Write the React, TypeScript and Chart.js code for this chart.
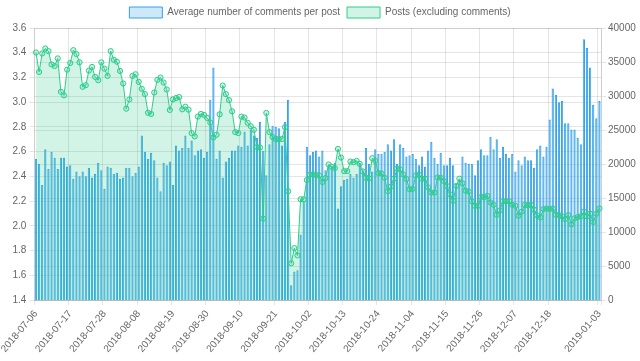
import React, { useEffect, useRef } from 'react';
import { Chart, registerables } from 'chart.js';

Chart.register(...registerables);

// ---- data ----
const START_DATE = '2018-07-06';
const DAY_COUNT = 182;

const TICK_LABELS = [
  '2018-07-06', '2018-07-17', '2018-07-28', '2018-08-08', '2018-08-19', '2018-08-30',
  '2018-09-10', '2018-09-21', '2018-10-02', '2018-10-13', '2018-10-24', '2018-11-04',
  '2018-11-15', '2018-11-26', '2018-12-07', '2018-12-18', '2019-01-03',
];

const COMMENTS_PER_POST = [
  2.54, 2.50, 2.33, 2.62, 2.46, 2.60, 2.55, 2.46, 2.55, 2.55,
  2.48, 2.49, 2.38, 2.44, 2.40, 2.44, 2.40, 2.47, 2.39, 2.42,
  2.51, 2.45, 2.30, 2.48, 2.47, 2.42, 2.43, 2.38, 2.39, 2.47,
  2.47, 2.40, 2.43, 2.48, 2.73, 2.60, 2.54, 2.59, 2.53, 2.39,
  2.28, 2.51, 2.49, 2.52, 2.33, 2.65, 2.61, 2.63, 2.73, 2.63,
  2.69, 2.57, 2.61, 2.62, 2.55, 2.60, 3.02, 3.28, 2.54, 2.61,
  2.39, 2.52, 2.55, 2.61, 2.61, 2.65, 2.64, 2.76, 2.65, 2.78,
  2.73, 2.71, 2.84, 2.61, 2.41, 2.66, 2.81, 2.80, 2.79, 2.65,
  2.84, 3.02, 1.52, 1.63, 1.64, 1.93, 2.20, 2.64, 2.57, 2.60,
  2.61, 2.56, 2.61, 2.45, 2.49, 2.48, 2.51, 2.14, 2.32, 2.37,
  2.38, 2.42, 2.39, 2.42, 2.51, 2.45, 2.63, 2.50, 2.44, 2.62,
  2.58, 2.58, 2.60, 2.66, 2.61, 2.70, 2.50, 2.66, 2.63, 2.56,
  2.57, 2.58, 2.54, 2.49, 2.56, 2.48, 2.61, 2.68, 2.55, 2.50,
  2.59, 2.49, 2.49, 2.55, 2.49, 2.34, 2.37, 2.56, 2.51, 2.50,
  2.50, 2.41, 2.53, 2.62, 2.57, 2.57, 2.72, 2.62, 2.70, 2.55,
  2.64, 2.58, 2.55, 2.58, 2.44, 2.53, 2.49, 2.56, 2.53, 2.53,
  2.47, 2.62, 2.65, 2.56, 2.64, 2.86, 3.11, 3.06, 3.00, 3.01,
  2.83, 2.83, 2.78, 2.78, 2.71, 2.66, 3.51, 3.44, 3.28, 2.98,
  2.87, 3.01,
];

const POSTS = [
  36400, 33540, 36260, 36990, 36600, 34650, 34410, 35530, 30620, 30090,
  33880, 34850, 36740, 36160, 34950, 31350, 31590, 33730, 34270, 32810,
  32320, 34950, 34020, 32950, 36600, 35330, 35040, 33680, 31840, 28140,
  29500, 32950, 33200, 32080, 31060, 30280, 27530, 27360, 30520, 32370,
  32710, 31980, 30960, 27950, 29500, 29700, 29840, 28040, 28430, 27990,
  24540, 24060, 26970, 27360, 27220, 26780, 26100, 23910, 24300, 27310,
  31540, 30280, 29400, 27750, 24690, 24540, 26970, 26830, 26050, 25560,
  25030, 22500, 22410, 11960, 27510, 24690, 23960, 23670, 23670, 23670,
  25420, 15990, 5400, 7630, 6560, 14820, 14820, 17640, 18420, 18470,
  18370, 18320, 17350, 17930, 19930, 19590, 19390, 22210, 20950, 18950,
  18950, 20360, 20270, 20460, 20020, 18910, 17980, 17890, 20850, 20460,
  18660, 18610, 17980, 15990, 16670, 17840, 19340, 19200, 18470, 17790,
  16280, 16330, 18320, 18470, 17840, 17840, 16570, 15800, 15800, 18030,
  17980, 17500, 16770, 15550, 14580, 16770, 17840, 17160, 16090, 15940,
  14530, 13850, 13850, 15160, 15160, 15310, 14340, 14000, 12540, 13170,
  14530, 14530, 14530, 14000, 13850, 12390, 12980, 14000, 13950, 14000,
  13270, 12440, 12150, 13370, 13460, 13370, 13460, 12540, 12490, 12300,
  11910, 12490, 11130, 12000, 12200, 12300, 12980, 12300, 12690, 11470,
  12690, 13460,
];

function buildDates(start: string, count: number): string[] {
  const out: string[] = [];
  const d0 = new Date(start + 'T00:00:00Z').getTime();
  for (let i = 0; i < count; i++) {
    out.push(new Date(d0 + i * 86400000).toISOString().slice(0, 10));
  }
  return out;
}

const DATES = buildDates(START_DATE, DAY_COUNT);
const SHOWN = new Set(TICK_LABELS);

const FONT_FAMILY = "'Liberation Sans', Arial, sans-serif";
const GRID = 'rgba(0,0,0,0.1)';

export default function App() {
  const ref = useRef<HTMLCanvasElement | null>(null);

  useEffect(() => {
    document.body.style.margin = '0';
    const canvas = ref.current;
    if (!canvas) return;
    const chart = new Chart(canvas, {
      type: 'bar',
      data: {
        labels: DATES,
        datasets: [
          {
            type: 'bar',
            label: 'Average number of comments per post',
            data: COMMENTS_PER_POST,
            yAxisID: 'y',
            backgroundColor: 'rgba(54,162,235,0.25)',
            borderColor: 'rgb(54,162,235)',
            borderWidth: 1,
            order: 2,
          },
          {
            type: 'line',
            label: 'Posts (excluding comments)',
            data: POSTS,
            yAxisID: 'y1',
            borderColor: 'rgb(46,204,140)',
            backgroundColor: 'rgba(46,204,140,0.22)',
            pointBackgroundColor: 'rgba(46,204,140,0.22)',
            pointBorderColor: 'rgb(46,204,140)',
            pointRadius: 2.6,
            pointBorderWidth: 1,
            borderWidth: 1,
            tension: 0,
            fill: 'origin',
            order: 1,
          },
        ],
      },
      options: {
        animation: false,
        responsive: true,
        maintainAspectRatio: false,
        layout: { padding: { top: 0, bottom: 0, left: 0, right: 0 } },
        plugins: {
          legend: {
            display: true,
            position: 'top',
            labels: {
              boxWidth: 33,
              boxHeight: 11,
              padding: 7,
              color: '#666',
              font: { family: FONT_FAMILY, size: 10 },
              sort: (a: any, b: any) => a.datasetIndex - b.datasetIndex,
            },
          },
          tooltip: { enabled: false },
        },
        scales: {
          x: {
            type: 'category',
            offset: true,
            grid: {
              offset: true,
              color: (ctx: any) => {
                const i = ctx.index;
                if (i === undefined || i >= DATES.length) return GRID;
                return SHOWN.has(DATES[i]) ? GRID : 'rgba(0,0,0,0)';
              },
              tickLength: 5,
            },
            border: { color: GRID },
            ticks: {
              autoSkip: false,
              minRotation: 50,
              maxRotation: 50,
              color: '#666',
              font: { family: FONT_FAMILY, size: 10 },
              callback: (_v: any, i: number) => (SHOWN.has(DATES[i]) ? DATES[i] : ''),
            },
            afterFit: (scale: any) => {
              scale.height = 61;
            },
          },
          y: {
            position: 'left',
            min: 1.4,
            max: 3.6,
            grid: { color: GRID, tickLength: 5 },
            border: { color: GRID },
            ticks: {
              stepSize: 0.2,
              color: '#666',
              font: { family: FONT_FAMILY, size: 10 },
              callback: (v: any) => Number(v).toFixed(1),
            },
            afterFit: (scale: any) => {
              scale.width = 33;
            },
          },
          y1: {
            position: 'right',
            min: 0,
            max: 40000,
            grid: { color: GRID, tickLength: 5 },
            border: { color: GRID },
            ticks: {
              stepSize: 5000,
              color: '#666',
              padding: 2,
              font: { family: FONT_FAMILY, size: 10 },
              callback: (v: any) => String(v),
            },
            afterFit: (scale: any) => {
              scale.width = 39;
            },
          },
        },
      },
    });
    return () => chart.destroy();
  }, []);

  return (
    <div style={{ position: 'absolute', left: 0, top: 0, width: 640, height: 361 }}>
      <canvas ref={ref} />
    </div>
  );
}
